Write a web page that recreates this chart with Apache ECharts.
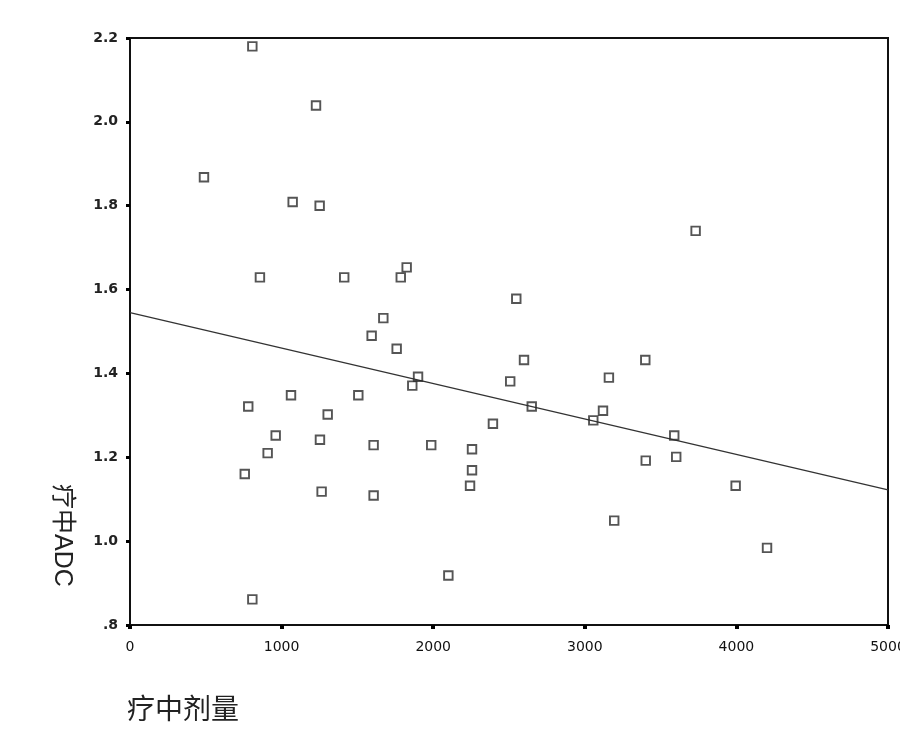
<!DOCTYPE html>
<html>
<head>
<meta charset="utf-8">
<script src="https://cdn.jsdelivr.net/npm/echarts@6/dist/echarts.min.js"></script>
<style>
html,body{margin:0;padding:0;background:#fff;}
#chart{width:900px;height:735px;}
</style>
</head>
<body>
<div id="chart"></div>
<script>
// Scatter data: dose during treatment (x) vs ADC during treatment (y)
var doseValues = [807,1227,488,1073,1251,3731,857,1413,1825,1786,2548,1671,1594,1759,2599,3399,1900,1862,2508,3159,1062,1506,780,1304,2650,3120,3056,2394,961,1253,3590,1607,1987,908,2256,3603,3402,2256,757,2243,3995,1264,1607,3194,4202,2100,807];
var adcValues  = [2.18,2.039,1.868,1.809,1.800,1.740,1.629,1.629,1.653,1.629,1.578,1.532,1.490,1.459,1.432,1.432,1.392,1.371,1.381,1.390,1.348,1.348,1.321,1.302,1.321,1.311,1.288,1.280,1.252,1.242,1.252,1.229,1.229,1.210,1.219,1.201,1.192,1.169,1.160,1.132,1.132,1.118,1.109,1.049,0.984,0.918,0.861];
// Fitted line endpoints
var fitX = [0, 5000];
var fitY = [1.545, 1.122];
// Tick labels
var xTickLabels = ['0','1000','2000','3000','4000','5000'];
var yTickLabels = ['.8','1.0','1.2','1.4','1.6','1.8','2.0','2.2'];
var xAxisTitle = '疗中剂量';
var yAxisTitle = '疗中ADC';

var points = doseValues.map(function(x,i){return [x, adcValues[i]];});
var fitLine = fitX.map(function(x,i){return [x, fitY[i]];});

var chart = echarts.init(document.getElementById('chart'), null, {renderer:'canvas'});
chart.setOption({
  animation:false,
  backgroundColor:'#fff',
  grid:{left:130,right:12,top:38,bottom:110,containLabel:false,outerBoundsMode:'none',
    show:true,borderColor:'#111',borderWidth:2,backgroundColor:'transparent'},
  xAxis:{
    type:'value',min:0,max:5000,interval:1000,
    axisLine:{show:true,onZero:false,lineStyle:{color:'#111',width:2}},
    axisTick:{show:true,length:4,inside:false,lineStyle:{color:'#000',width:4}},
    splitLine:{show:false},
    axisLabel:{margin:15,color:'#111',fontFamily:'DejaVu Sans',fontSize:14,hideOverlap:false,
      formatter:function(v){return xTickLabels[Math.round(v/1000)];}}
  },
  yAxis:{
    type:'value',min:0.8,max:2.2,interval:0.2,
    axisLine:{show:true,onZero:false,lineStyle:{color:'#111',width:2}},
    axisTick:{show:true,length:4,inside:false,lineStyle:{color:'#000',width:3}},
    splitLine:{show:false},
    axisLabel:{margin:12,color:'#222',fontFamily:'DejaVu Sans',fontSize:14,fontWeight:'bold',
      formatter:function(v){return yTickLabels[Math.round((v-0.8)/0.2)];}}
  },
  graphic:[
    {type:'text',left:127,top:694,style:{text:xAxisTitle,fontFamily:'Noto Sans CJK SC',fontSize:28,fill:'#222'}},
    {type:'text',x:49,y:484,rotation:-Math.PI/2,style:{text:yAxisTitle,fontFamily:'"Liberation Sans","Noto Sans CJK SC"',fontSize:25,fill:'#222',verticalAlign:'bottom'}}
  ],
  series:[
    {type:'line',data:fitLine,symbol:'none',silent:true,z:2,
      lineStyle:{color:'#333',width:1.3}},
    {type:'scatter',data:points,symbol:'rect',symbolSize:8.5,z:3,
      itemStyle:{color:'rgba(255,255,255,0)',borderColor:'#2a2a2a',borderWidth:1.9}}
  ]
});
</script>
</body>
</html>
